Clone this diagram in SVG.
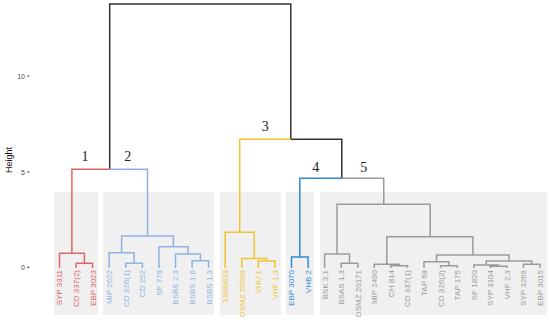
<svg xmlns="http://www.w3.org/2000/svg" width="550" height="321" viewBox="0 0 550 321">
<style>
.panel{fill:#f0f0f0}
.br{fill:none;stroke-width:1.5;stroke-linejoin:miter;stroke-linecap:butt}
.k{stroke:#333333}.r{stroke:#e06666}.b{stroke:#8db3e2}.y{stroke:#f1c232}.d{stroke:#2f8ad6}.g{stroke:#9a9a9a}
.lab{font-family:"Liberation Sans",Arial,sans-serif;font-size:8px;text-anchor:end}
.lr{fill:#e06666}.lb{fill:#8db3e2}.ly{fill:#f1c232}.ld{fill:#2f8ad6}.lg{fill:#9a9a9a}
.num{font-family:"Liberation Serif","Times New Roman",serif;font-size:14px;text-anchor:middle;fill:#222}
.ax{font-family:"Liberation Sans",Arial,sans-serif;font-size:7px;text-anchor:end;fill:#4d4d4d}
.tick{stroke:#4d4d4d;stroke-width:1}
</style>
<rect width="550" height="321" fill="#ffffff"/>
<g id="panels">
<rect class="panel" x="54" y="192" width="44" height="123"/>
<rect class="panel" x="103" y="192" width="111" height="123"/>
<rect class="panel" x="220" y="192" width="61" height="123"/>
<rect class="panel" x="286" y="192" width="28" height="123"/>
<rect class="panel" x="320" y="192" width="227" height="123"/>
</g>
<g id="axis">
<line class="tick" x1="27" y1="76" x2="29.5" y2="76"/>
<line class="tick" x1="27" y1="172" x2="29.5" y2="172"/>
<line class="tick" x1="27" y1="267.3" x2="29.5" y2="267.3"/>
<text class="ax" x="25" y="78.5">10</text>
<text class="ax" x="25" y="174.5">5</text>
<text class="ax" x="25" y="269.8">0</text>
<text font-family="Liberation Sans,Arial,sans-serif" font-size="9" text-anchor="middle" fill="#111" transform="translate(12.2,160) rotate(-90)">Height</text>
</g>
<g id="connectors">
<path class="br k" d="M109.7,169.3 V4 H290.75 V139.3 M290.75,139.3 H341.8 V178.3"/>
<path class="br r" d="M71.9,253.3 V169.3 H109.7 M59.5,268 V253.3 H84.4 V263.3 M76.1,268 V263.3 H92.6 V268"/>
<path class="br b" d="M109.7,169.3 H147.5 V236 M121.6,252.7 V236 H173.4 V246.7 M109.2,268 V252.7 H134.1 V263.3 M125.8,268 V263.3 H142.4 V268 M158.9,268 V246.7 H187.9 V254 M175.5,268 V254 H200.4 V260.7 M192.1,268 V260.7 H208.6 V268"/>
<path class="br y" d="M239.7,232.3 V139.3 H290.75 M225.2,268 V232.3 H254.2 V258.5 M241.8,268 V258.5 H266.6 V261 M258.3,268 V261 H274.9 V268"/>
<path class="br d" d="M299.8,257 V178.3 H341.8 M291.5,268 V257 H308.1 V268"/>
<path class="br g" d="M341.8,178.3 H383.75 V204.3 M337,254 V204.3 H430.2 V236.7 M324.6,268 V254 H349.5 V263.3 M341.2,268 V263.3 H357.8 V268 M386.8,264.3 V236.7 H472.9 V255 M374.3,268 V264.3 H399.2 V265.7 M390.9,268 V265.7 H407.5 V268 M436.5,261.7 V255 H509 V261 M424,268 V261.7 H448.9 V265.7 M440.6,268 V265.7 H457.2 V268 M486.2,265 V261 H531.7 V264.3 M473.8,268 V265 H498.6 V266.3 M490.3,268 V266.3 H506.9 V268 M523.5,268 V264.3 H540 V268"/>
</g>
<g id="cluster-labels">
<text class="num" x="85" y="160.7">1</text>
<text class="num" x="127.7" y="160.7">2</text>
<text class="num" x="265.3" y="130.5">3</text>
<text class="num" x="315.7" y="171.7">4</text>
<text class="num" x="363.7" y="171.7">5</text>
</g>
<g id="leaves">
<g id="leaf-SYP3311"><text class="lab lr" transform="translate(62.4,270) rotate(-90)">SYP 3311</text></g>
<g id="leaf-CD337-2"><text class="lab lr" transform="translate(79,270) rotate(-90)">CD 337(2)</text></g>
<g id="leaf-EBP3023"><text class="lab lr" transform="translate(95.5,270) rotate(-90)">EBP 3023</text></g>
<g id="leaf-MIP2622"><text class="lab lb" transform="translate(112.1,270) rotate(-90)">MIP 2622</text></g>
<g id="leaf-CD326-1"><text class="lab lb" transform="translate(128.7,270) rotate(-90)">CD 326(1)</text></g>
<g id="leaf-CD252"><text class="lab lb" transform="translate(145.3,270) rotate(-90)">CD 252</text></g>
<g id="leaf-SF779"><text class="lab lb" transform="translate(161.8,270) rotate(-90)">SF 779</text></g>
<g id="leaf-BSBS2.3"><text class="lab lb" transform="translate(178.4,270) rotate(-90)">BSBS 2.3</text></g>
<g id="leaf-BSBS1.6"><text class="lab lb" transform="translate(195,270) rotate(-90)">BSBS 1.6</text></g>
<g id="leaf-BSBS1.3"><text class="lab lb" transform="translate(211.5,270) rotate(-90)">BSBS 1.3</text></g>
<g id="leaf-19R633"><text class="lab ly" transform="translate(228.1,270) rotate(-90)">19/R/633</text></g>
<g id="leaf-DSMZ20599"><text class="lab ly" transform="translate(244.7,270) rotate(-90)">DSMZ 20599</text></g>
<g id="leaf-VHU1"><text class="lab ly" transform="translate(261.2,270) rotate(-90)">VHU 1</text></g>
<g id="leaf-VHF1.3"><text class="lab ly" transform="translate(277.8,270) rotate(-90)">VHF 1.3</text></g>
<g id="leaf-EBP3070"><text class="lab ld" transform="translate(294.4,270) rotate(-90)">EBP 3070</text></g>
<g id="leaf-VHB2"><text class="lab ld" transform="translate(311,270) rotate(-90)">VHB 2</text></g>
<g id="leaf-BSK3.1"><text class="lab lg" transform="translate(327.5,270) rotate(-90)">BSK 3.1</text></g>
<g id="leaf-BSAS1.3"><text class="lab lg" transform="translate(344.1,270) rotate(-90)">BSAS 1.3</text></g>
<g id="leaf-DSMZ20171"><text class="lab lg" transform="translate(360.7,270) rotate(-90)">DSMZ 20171</text></g>
<g id="leaf-MIP2490"><text class="lab lg" transform="translate(377.2,270) rotate(-90)">MIP 2490</text></g>
<g id="leaf-CH814"><text class="lab lg" transform="translate(393.8,270) rotate(-90)">CH 814</text></g>
<g id="leaf-CD337-1"><text class="lab lg" transform="translate(410.4,270) rotate(-90)">CD 337(1)</text></g>
<g id="leaf-TAP68"><text class="lab lg" transform="translate(426.9,270) rotate(-90)">TAP 68</text></g>
<g id="leaf-CD326-2"><text class="lab lg" transform="translate(443.5,270) rotate(-90)">CD 326(2)</text></g>
<g id="leaf-TAP175"><text class="lab lg" transform="translate(460.1,270) rotate(-90)">TAP 175</text></g>
<g id="leaf-SF1820"><text class="lab lg" transform="translate(476.7,270) rotate(-90)">SF 1820</text></g>
<g id="leaf-SYP3104"><text class="lab lg" transform="translate(493.2,270) rotate(-90)">SYP 3104</text></g>
<g id="leaf-VHF2.3"><text class="lab lg" transform="translate(509.8,270) rotate(-90)">VHF 2.3</text></g>
<g id="leaf-SYP3269"><text class="lab lg" transform="translate(526.4,270) rotate(-90)">SYP 3269</text></g>
<g id="leaf-EBP3015"><text class="lab lg" transform="translate(542.9,270) rotate(-90)">EBP 3015</text></g>
</g>
</svg>
